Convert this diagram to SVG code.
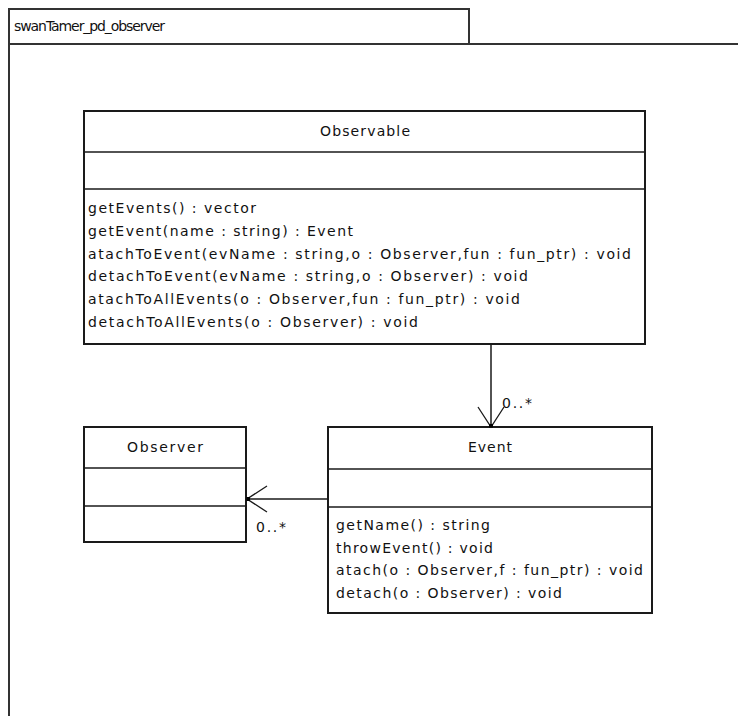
<svg xmlns="http://www.w3.org/2000/svg" width="738" height="716" viewBox="0 0 738 716">
  <style>
    .frame { fill: #ffffff; stroke: #333333; stroke-width: 2; }
    .box { fill: #ffffff; stroke: #1a1a1a; stroke-width: 2; }
    .sep { stroke: #1a1a1a; stroke-width: 1.6; }
    .edge { fill: none; stroke: #1a1a1a; stroke-width: 1.5; }
    text { font-family: "DejaVu Sans", "Liberation Sans", sans-serif; font-size: 14px; fill: #111111; }
    .title { text-anchor: middle; }
  </style>
  <defs>
    <marker id="open-arrow" viewBox="0 0 24 30" refX="22" refY="15" markerWidth="24" markerHeight="30" markerUnits="userSpaceOnUse" orient="auto">
      <path d="M2,2 L22,15 L2,28" fill="none" stroke="#1a1a1a" stroke-width="1.3"/>
      <rect x="19" y="13" width="3.5" height="4" fill="#000000"/>
    </marker>
  </defs>

  <rect width="738" height="716" fill="#ffffff"/>

  <!-- package frame -->
  <g id="package">
    <rect class="frame" x="9" y="44" width="740" height="700"/>
    <rect class="frame" x="9" y="9" width="460" height="35"/>
    <text x="14" y="31" textLength="151" lengthAdjust="spacing">swanTamer_pd_observer</text>
  </g>

  <!-- class Observable -->
  <g id="observable">
    <rect class="box" x="84" y="111" width="561" height="233"/>
    <line class="sep" x1="84" y1="152" x2="645" y2="152"/>
    <line class="sep" x1="84" y1="189" x2="645" y2="189"/>
    <text class="title" x="365" y="136" textLength="90" lengthAdjust="spacing">Observable</text>
    <text x="88" y="213" textLength="168" lengthAdjust="spacing">getEvents() : vector</text>
    <text x="88" y="235.8" textLength="265" lengthAdjust="spacing">getEvent(name : string) : Event</text>
    <text x="88" y="258.6" textLength="543" lengthAdjust="spacing">atachToEvent(evName : string,o : Observer,fun : fun_ptr) : void</text>
    <text x="88" y="281.4" textLength="440" lengthAdjust="spacing">detachToEvent(evName : string,o : Observer) : void</text>
    <text x="88" y="304.2" textLength="432" lengthAdjust="spacing">atachToAllEvents(o : Observer,fun : fun_ptr) : void</text>
    <text x="88" y="327" textLength="330" lengthAdjust="spacing">detachToAllEvents(o : Observer) : void</text>
  </g>

  <!-- class Observer -->
  <g id="observer">
    <rect class="box" x="84" y="427" width="162" height="115"/>
    <line class="sep" x1="84" y1="468" x2="246" y2="468"/>
    <line class="sep" x1="84" y1="506" x2="246" y2="506"/>
    <text class="title" x="165" y="452" textLength="76" lengthAdjust="spacing">Observer</text>
  </g>

  <!-- class Event -->
  <g id="event">
    <rect class="box" x="328" y="427" width="324" height="186"/>
    <line class="sep" x1="328" y1="469" x2="652" y2="469"/>
    <line class="sep" x1="328" y1="507" x2="652" y2="507"/>
    <text class="title" x="490" y="452" textLength="44" lengthAdjust="spacing">Event</text>
    <text x="336" y="530" textLength="154" lengthAdjust="spacing">getName() : string</text>
    <text x="336" y="552.7" textLength="157" lengthAdjust="spacing">throwEvent() : void</text>
    <text x="336" y="575.4" textLength="307" lengthAdjust="spacing">atach(o : Observer,f : fun_ptr) : void</text>
    <text x="336" y="598" textLength="226" lengthAdjust="spacing">detach(o : Observer) : void</text>
  </g>

  <!-- associations -->
  <g id="connectors">
    <path class="edge" d="M491,344 L491,427" marker-end="url(#open-arrow)"/>
    <text x="502" y="408" textLength="30" lengthAdjust="spacing">0..*</text>
    <path class="edge" d="M328,499 L247,499" marker-end="url(#open-arrow)"/>
    <text x="256" y="532" textLength="30" lengthAdjust="spacing">0..*</text>
  </g>
</svg>
